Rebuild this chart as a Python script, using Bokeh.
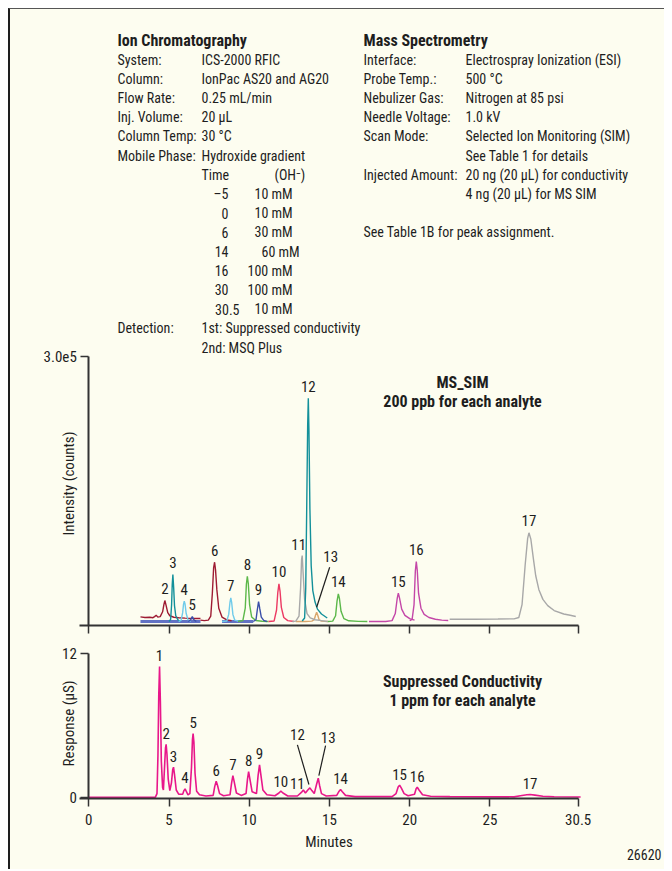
import math
from bokeh.plotting import figure
from bokeh.models import Range1d, FixedTicker, ColumnDataSource, LinearAxis
from bokeh.layouts import column
from bokeh.embed import file_html
from bokeh.resources import INLINE
from bokeh.core.properties import value

FONT = "Roboto Condensed, DejaVu Sans Condensed, sans-serif"
BG = "#fdfdf0"
INK = "#1e1e1e"

# ---------------- data ----------------
x_ticks = [0, 5, 10, 15, 20, 25, 30.5]
x_tick_labels = ["0", "5", "10", "15", "20", "25", "30.5"]
ms_y_ticks = [300000]
ms_y_tick_labels = ["3.0e5"]
cd_y_ticks = [0, 12]
cd_y_tick_labels = ["0", "12"]

# MS SIM traces (minutes, counts)
ms2_t = [3.22, 3.5, 3.8, 4.0, 4.1, 4.2, 4.3, 4.45, 4.6, 4.68, 4.74, 4.82, 4.92, 5.05, 5.3, 5.6, 6.0, 6.4, 6.96]
ms2_y = [5200, 4600, 4800, 4300, 5500, 7000, 4900, 5500, 11000, 19000, 23700, 18000, 10000, 6500, 4800, 4300, 3800, 3400, 3400]
ms3_t = [5.0, 5.1, 5.16, 5.2, 5.24, 5.29, 5.34, 5.42, 5.55, 5.7]
ms3_y = [0, 2500, 19000, 42000, 53000, 38000, 18000, 6500, 2000, 0]
ms4_t = [5.6, 5.75, 5.85, 5.9, 5.95, 6.0, 6.07, 6.18, 6.35]
ms4_y = [0, 1200, 10000, 19000, 23000, 19500, 9000, 2000, 0]
ms5_t = [6.2, 6.35, 6.45, 6.55, 6.7]
ms5_y = [0, 2000, 5700, 2000, 0]
base1_t = [3.22, 6.96]
base1_y = [0, 0]
base2_t = [8.3, 10.25]
base2_y = [0, 0]
ms6_t = [6.96, 7.2, 7.45, 7.6, 7.7, 7.78, 7.84, 7.9, 7.98, 8.1, 8.3, 8.6, 8.9]
ms6_y = [1500, 1000, 1500, 6000, 32000, 61000, 67000, 58000, 36000, 15000, 5000, 1800, 800]
ms7_t = [8.3, 8.6, 8.72, 8.8, 8.85, 8.9, 8.98, 9.1, 9.4]
ms7_y = [0, 600, 8000, 22000, 26800, 22000, 8000, 1500, 0]
ms8_t = [9.3, 9.6, 9.75, 9.82, 9.88, 9.94, 10.02, 10.15, 10.4, 10.8, 11.2]
ms8_y = [0, 1000, 15000, 42000, 51000, 43000, 19000, 5000, 1200, 300, 0]
ms9_t = [10.25, 10.42, 10.5, 10.58, 10.65, 10.75, 10.9, 11.1]
ms9_y = [0, 2000, 13000, 22600, 15000, 5000, 1200, 0]
ms10_t = [11.2, 11.55, 11.7, 11.78, 11.85, 11.92, 12.0, 12.15, 12.4, 12.8]
ms10_y = [0, 600, 13000, 33000, 42600, 34000, 16000, 4500, 1000, 0]
ms11_t = [12.68, 12.9, 13.1, 13.2, 13.26, 13.3, 13.35, 13.45, 13.6, 13.8, 14.1, 14.5, 14.9]
ms11_y = [0, 400, 6000, 38000, 70000, 74600, 57000, 25000, 9000, 4000, 2000, 1000, 0]
ms12_t = [13.3, 13.45, 13.52, 13.58, 13.64, 13.68, 13.72, 13.78, 13.86, 13.96, 14.1, 14.25, 14.5, 14.86]
ms12_y = [600, 4000, 38000, 127000, 222000, 252500, 216000, 127000, 63000, 35000, 22000, 14000, 8500, 4000]
ms13_t = [12.9, 13.5, 13.9, 14.05, 14.13, 14.2, 14.27, 14.35, 14.5, 14.9]
ms13_y = [0, 0, 400, 2000, 7000, 10500, 7000, 2000, 400, 0]
ms14_t = [14.9, 15.2, 15.38, 15.47, 15.55, 15.62, 15.72, 15.9, 16.2, 16.8, 17.36]
ms14_y = [0, 400, 6500, 23000, 31300, 26000, 11500, 3200, 800, 150, 0]
ms15_t = [17.46, 18.5, 18.9, 19.1, 19.22, 19.29, 19.36, 19.5, 19.7, 20.0, 20.3]
ms15_y = [0, 0, 1000, 9000, 26000, 32000, 27000, 14000, 7000, 3200, 1500]
ms16_t = [20.0, 20.15, 20.27, 20.35, 20.41, 20.47, 20.55, 20.7, 20.9, 21.2, 21.6, 22.0, 22.4]
ms16_y = [1000, 2500, 19000, 57000, 67800, 58000, 32000, 15000, 8000, 4500, 2500, 1500, 1200]
ms17_t = [22.49, 24.0, 25.5, 26.5, 26.8, 27.0, 27.2, 27.35, 27.43, 27.55, 27.7, 27.85, 28.05, 28.3, 28.6, 29.0, 29.6, 30.0, 30.35]
ms17_y = [2600, 2600, 2800, 3000, 4500, 19000, 65000, 94000, 100300, 93000, 72000, 52000, 36000, 25000, 18000, 12400, 8500, 7000, 5700]

ms_peak_id = ["2", "3", "4", "5", "6", "7", "8", "9", "10", "11", "12", "13", "14", "15", "16", "17"]
ms_peak_t = [4.74, 5.24, 5.95, 6.45, 7.84, 8.85, 9.88, 10.58, 11.85, 13.30, 13.68, 14.20, 15.55, 19.29, 20.41, 27.43]
ms_peak_h = [23700, 53000, 23000, 5700, 67000, 26800, 51000, 22600, 42600, 74600, 252500, 10500, 31300, 32000, 67800, 100300]

# Suppressed conductivity trace (minutes, uS)
cd_t = [0, 4.15, 4.25, 4.31, 4.36, 4.41, 4.46, 4.52, 4.6, 4.65, 4.72, 4.78, 4.82, 4.87, 4.95, 5.05, 5.15, 5.23, 5.28,
        5.34, 5.45, 5.6, 5.85, 5.93, 6.0, 6.07, 6.18, 6.3, 6.4, 6.46, 6.5, 6.55, 6.62, 6.72, 6.9, 7.3, 7.75, 7.85,
        7.94, 8.02, 8.15, 8.4, 8.8, 8.9, 8.98, 9.06, 9.2, 9.5, 9.8, 9.89, 9.96, 10.04, 10.18, 10.45, 10.55, 10.64,
        10.72, 10.85, 11.1, 11.6, 11.85, 11.97, 12.1, 12.4, 13.0, 13.25, 13.37, 13.5, 13.65, 13.78, 13.9, 14.05,
        14.2, 14.3, 14.38, 14.5, 14.8, 15.45, 15.6, 15.69, 15.8, 16.0, 16.6, 18.9, 19.15, 19.28, 19.37, 19.48,
        19.65, 19.9, 20.3, 20.4, 20.47, 20.58, 20.8, 21.3, 22.5, 26.5, 26.9, 27.3, 27.5, 27.8, 28.3, 29.0, 30.65]
cd_y = [0, 0, 0.3, 3.5, 8.5, 10.9, 8.0, 3.0, 0.8, 0.6, 2.5, 4.1, 4.4, 3.6, 1.5, 0.55, 1.2, 2.3, 2.5,
        1.9, 0.6, 0.25, 0.25, 0.55, 0.7, 0.5, 0.2, 0.3, 2.5, 4.8, 5.3, 4.6, 2.0, 0.5, 0.2, 0.1, 0.15, 0.9,
        1.33, 1.0, 0.3, 0.12, 0.2, 1.2, 1.8, 1.3, 0.35, 0.15, 0.3, 1.5, 2.14, 1.5, 0.45, 0.3, 1.8, 2.7,
        1.9, 0.6, 0.2, 0.12, 0.35, 0.5, 0.35, 0.1, 0.1, 0.4, 0.6, 0.35, 0.6, 0.78, 0.55, 0.3,
        1.1, 1.58, 1.0, 0.3, 0.1, 0.15, 0.5, 0.64, 0.45, 0.15, 0.05, 0.05, 0.3, 0.85, 1.0, 0.75,
        0.3, 0.12, 0.25, 0.7, 0.83, 0.6, 0.2, 0.08, 0.05, 0.03, 0.12, 0.2, 0.22, 0.17, 0.08, 0.04, 0.02]
cd_peak_id = [str(i) for i in range(1, 18)]
cd_peak_t = [4.41, 4.82, 5.28, 6.0, 6.5, 7.94, 8.98, 9.96, 10.64, 11.97, 13.37, 13.78, 14.3, 15.69, 19.37, 20.47, 27.5]
cd_peak_h = [10.9, 4.4, 2.5, 0.7, 5.3, 1.33, 1.8, 2.14, 2.7, 0.5, 0.6, 0.78, 1.58, 0.64, 1.0, 0.83, 0.22]

# Header text
ic_title = "Ion Chromatography"
ic_keys = ["System:", "Column:", "Flow Rate:", "Inj. Volume:", "Column Temp:", "Mobile Phase:"]
ic_vals = ["ICS-2000 RFIC", "IonPac AS20 and AG20", "0.25 mL/min", "20 µL", "30 °C", "Hydroxide gradient"]
grad_head = ["Time", "(OH\u207b)"]
grad_time = ["\u20135", "0", "6", "14", "16", "30", "30.5"]
grad_conc = ["10 mM", "10 mM", "30 mM", "60 mM", "100 mM", "100 mM", "10 mM"]
det_key = "Detection:"
det_vals = ["1st: Suppressed conductivity", "2nd: MSQ Plus"]
msp_title = "Mass Spectrometry"
msp_keys = ["Interface:", "Probe Temp.:", "Nebulizer Gas:", "Needle Voltage:", "Scan Mode:", "", "Injected Amount:", ""]
msp_vals = ["Electrospray Ionization (ESI)", "500 °C", "Nitrogen at 85 psi", "1.0 kV",
            "Selected Ion Monitoring (SIM)", "See Table 1 for details",
            "20 ng (20 µL) for conductivity", "4 ng (20 µL) for MS SIM"]
msp_note = "See Table 1B for peak assignment."
ms_title = ["MS_SIM", "200 ppb for each analyte"]
cd_title = ["Suppressed Conductivity", "1 ppm for each analyte"]
ms_axis_title = "Intensity (counts)"
cd_axis_title = "Response (µS)"
x_axis_title = "Minutes"
fig_id = "26620"

# ---------------- layout (page pixels) ----------------
CX0, CY0 = 10, 9            # canvas top-left on the page
W, H = 654, 860
X_ZERO, X_END = 88.3, 577.7   # page x of 0 and 30.5 min
MS_BASE, MS_TOP, MS_AXIS = 621.0, 355.7, 625.0
CD_BASE, CD_TOP, CD_AXIS = 796.7, 652.7, 797.7
X0, X1 = -0.58, 30.5

PXPM = (X_END - X_ZERO) / (X1 - 0)
MS_VPP = 300000 / (MS_BASE - MS_TOP)
CD_VPP = 12 / (CD_BASE - CD_TOP)

xr = Range1d((CX0 - X_ZERO) / PXPM, (CX0 + W - X_ZERO) / PXPM)
yr = Range1d(-(CY0 + H - MS_BASE) * MS_VPP, (MS_BASE - CY0) * MS_VPP)

p = figure(width=W, height=H, x_range=xr, y_range=yr, title=None,
           output_backend="svg", toolbar_location=None,
           min_border_left=0, min_border_right=0, min_border_top=0, min_border_bottom=0,
           background_fill_color=BG, border_fill_color=BG, outline_line_color=None)
p.extra_y_ranges = {"cd": Range1d(-(CY0 + H - CD_BASE) * CD_VPP, (CD_BASE - CY0) * CD_VPP),
                    "px": Range1d(CY0 + H, CY0)}
p.extra_x_ranges = {"px": Range1d(CX0, CX0 + W)}
p.grid.visible = False

ms_x_axis_loc = -(MS_AXIS - MS_BASE) * MS_VPP
cd_x_axis_loc = -(CD_AXIS - CD_BASE) * CD_VPP

cd_xaxis = LinearAxis(y_range_name="cd")
cd_yaxis = LinearAxis(y_range_name="cd")
p.add_layout(cd_xaxis, "below")
p.add_layout(cd_yaxis, "left")
ms_xaxis, ms_yaxis = p.xaxis[0], p.yaxis[0]

for ax in (ms_xaxis, ms_yaxis, cd_xaxis, cd_yaxis):
    ax.axis_line_color = "#333333"
    ax.axis_line_width = 2
    ax.major_tick_line_color = "#333333"
    ax.major_tick_line_width = 1.5
    ax.major_tick_out = 8
    ax.major_tick_in = 0
    ax.minor_tick_line_color = None
    ax.major_label_text_font = FONT
    ax.major_label_text_font_size = "15px"
    ax.major_label_text_color = INK
    ax.major_label_standoff = 4

for ax, loc in ((ms_xaxis, ms_x_axis_loc), (cd_xaxis, cd_x_axis_loc)):
    ax.ticker = FixedTicker(ticks=x_ticks)
    ax.major_label_overrides = {t: s for t, s in zip(x_ticks, x_tick_labels)}
    ax.fixed_location = loc
    ax.bounds = (X0, X1)
ms_xaxis.major_label_text_color = None
cd_xaxis.major_label_standoff = 8
cd_xaxis.axis_label = x_axis_title
cd_xaxis.axis_label_text_font = FONT
cd_xaxis.axis_label_text_font_size = "15px"
cd_xaxis.axis_label_text_font_style = "normal"
cd_xaxis.axis_label_text_color = INK
cd_xaxis.axis_label_standoff = 4

ms_yaxis.ticker = FixedTicker(ticks=ms_y_ticks)
ms_yaxis.major_label_overrides = {t: s for t, s in zip(ms_y_ticks, ms_y_tick_labels)}
ms_yaxis.fixed_location = 0
ms_yaxis.bounds = (ms_x_axis_loc, 300000)
cd_yaxis.ticker = FixedTicker(ticks=cd_y_ticks)
cd_yaxis.major_label_overrides = {t: s for t, s in zip(cd_y_ticks, cd_y_tick_labels)}
cd_yaxis.fixed_location = 0
cd_yaxis.bounds = (cd_x_axis_loc, 12)


def put(xs, ys, texts, align="left", bold=False, size=14, angle=0.0):
    src = ColumnDataSource(dict(x=xs, y=ys, t=texts))
    p.text(x="x", y="y", text="t", source=src, x_range_name="px", y_range_name="px",
           text_align=align, text_baseline="middle", text_font=value(FONT),
           text_font_size=f"{size}px", text_font_style="bold" if bold else "normal",
           text_color=INK, angle=angle)


# ---- MS SIM traces ----
BROWN, TEAL, LBLUE, DBLUE = "#9e1b32", "#13909a", "#6fcbea", "#3a4fa8"
GREEN, PRED, GREY, TAN, MAG, PERI = "#5cb84a", "#ec3a63", "#a8a8a8", "#d9a66b", "#c447a8", "#6272c4"

p.line(base1_t, base1_y, line_color=PERI, line_width=3)
p.line(base2_t, base2_y, line_color=PERI, line_width=3)
traces = [(ms2_t, ms2_y, BROWN), (ms3_t, ms3_y, TEAL), (ms4_t, ms4_y, LBLUE), (ms5_t, ms5_y, DBLUE),
          (ms6_t, ms6_y, BROWN), (ms7_t, ms7_y, LBLUE), (ms8_t, ms8_y, GREEN), (ms9_t, ms9_y, DBLUE),
          (ms10_t, ms10_y, PRED), (ms13_t, ms13_y, TAN), (ms11_t, ms11_y, GREY), (ms12_t, ms12_y, TEAL),
          (ms14_t, ms14_y, GREEN), (ms15_t, ms15_y, MAG), (ms16_t, ms16_y, MAG), (ms17_t, ms17_y, GREY)]
for t, y, c in traces:
    p.line(t, y, line_color=c, line_width=1.4)

ms_dx = {"11": -3.5, "13": 14}
ms_dy = {"11": -11, "13": -56}
ms_src = ColumnDataSource(dict(
    t=ms_peak_t, h=ms_peak_h, id=ms_peak_id,
    dx=[ms_dx.get(i, 0) for i in ms_peak_id], dy=[ms_dy.get(i, -12) for i in ms_peak_id]))
p.text(x="t", y="h", text="id", x_offset="dx", y_offset="dy", source=ms_src,
       text_align="center", text_baseline="middle", text_font=value(FONT),
       text_font_size="15px", text_color=INK)
k13 = ms_peak_id.index("13")
p.segment(x0=[ms_peak_t[k13]], y0=[ms_peak_h[k13] + 5 * MS_VPP],
          x1=[ms_peak_t[k13] + 13 / PXPM], y1=[ms_peak_h[k13] + 45 * MS_VPP],
          line_color=INK, line_width=1.2)

# ---- conductivity trace ----
p.line(cd_t, cd_y, line_color="#e8178a", line_width=1.6, y_range_name="cd")
cd_dx = {"11": -6, "12": -12.5, "13": 10}
cd_dy = {"11": -7, "12": -53, "13": -41, "10": -10}
cd_src = ColumnDataSource(dict(
    t=cd_peak_t, h=cd_peak_h, id=cd_peak_id,
    dx=[cd_dx.get(i, 0) for i in cd_peak_id], dy=[cd_dy.get(i, -11) for i in cd_peak_id]))
p.text(x="t", y="h", text="id", x_offset="dx", y_offset="dy", source=cd_src, y_range_name="cd",
       text_align="center", text_baseline="middle", text_font=value(FONT),
       text_font_size="15px", text_color=INK)
k12, k13 = cd_peak_id.index("12"), cd_peak_id.index("13")
p.segment(x0=[cd_peak_t[k12] - 12.5 / PXPM, cd_peak_t[k13] + 7.3 / PXPM],
          y0=[cd_peak_h[k12] + 43 * CD_VPP, cd_peak_h[k13] + 32.7 * CD_VPP],
          x1=[cd_peak_t[k12] - 1 / PXPM, cd_peak_t[k13] + 0.6 / PXPM],
          y1=[cd_peak_h[k12] + 3.3 * CD_VPP, cd_peak_h[k13] + 2.7 * CD_VPP],
          line_color=INK, line_width=1.2, y_range_name="cd")

# ---- panel titles, axis titles ----
put([462, 462], [382, 401], ms_title, align="center", bold=True, size=16)
put([462, 462], [681, 699.5], cd_title, align="center", bold=True, size=16)
put([68], [483], [ms_axis_title], align="center", size=15, angle=math.pi / 2)
put([68], [723], [cd_axis_title], align="center", size=15, angle=math.pi / 2)
put([661], [854], [fig_id], align="right", size=14)

# ---- header ----
ROW0, PITCH = 59, 19.2
LX, VX = 117, 201
RX, RVX = 363, 465
put([LX, RX], [40, 40], [ic_title, msp_title], bold=True, size=16)
put([LX] * len(ic_keys), [ROW0 + PITCH * i for i in range(len(ic_keys))], ic_keys)
put([VX] * len(ic_vals), [ROW0 + PITCH * i for i in range(len(ic_vals))], ic_vals)
put([VX, 274], [ROW0 + PITCH * 6] * 2, grad_head)
put([239 if "." in tm else 228 for tm in grad_time],
    [ROW0 + PITCH * (7 + j) for j in range(len(grad_time))], grad_time, align="right")
conc_x = {"60 mM": 261, "100 mM": 247}
put([conc_x.get(c, 254) for c in grad_conc],
    [ROW0 + PITCH * (7 + j) for j in range(len(grad_conc))], grad_conc)
put([LX], [ROW0 + PITCH * 14], [det_key])
put([VX] * len(det_vals), [ROW0 + PITCH * (14 + j) for j in range(len(det_vals))], det_vals)
rows = [i for i, k in enumerate(msp_keys) if k]
put([RX] * len(rows), [ROW0 + PITCH * i for i in rows], [msp_keys[i] for i in rows])
put([RVX] * len(msp_vals), [ROW0 + PITCH * i for i in range(len(msp_vals))], msp_vals)
put([RX], [ROW0 + PITCH * 9], [msp_note])

layout = column(p, styles={"margin-left": "8px", "margin-top": "8px",
                           "border-left": "2px solid #1e1e1e", "border-top": "1px solid #555555",
                           "background-color": BG})
open("out.html", "w").write(file_html(layout, INLINE))
